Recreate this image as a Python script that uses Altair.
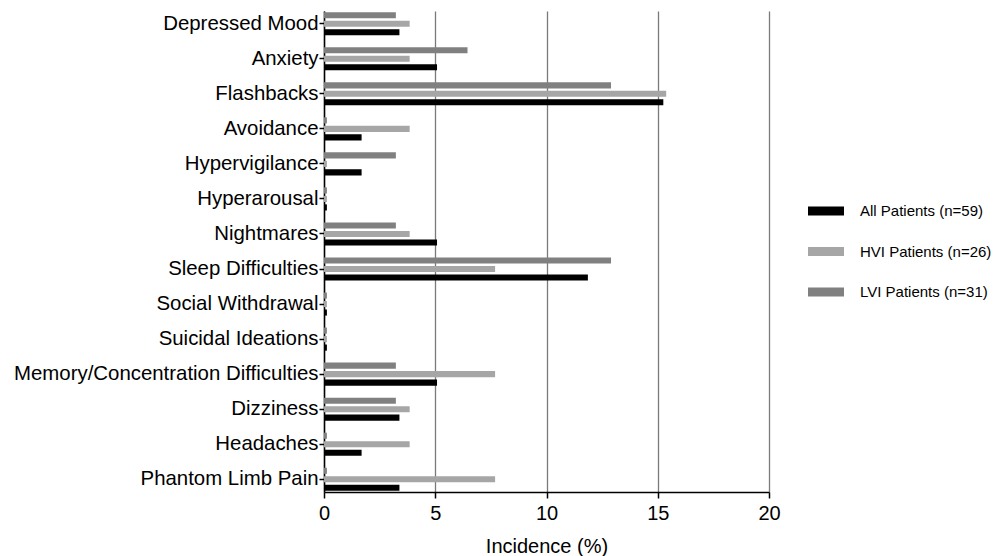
import altair as alt
import pandas as pd

# Symptoms, top to bottom
categories = [
    "Depressed Mood",
    "Anxiety",
    "Flashbacks",
    "Avoidance",
    "Hypervigilance",
    "Hyperarousal",
    "Nightmares",
    "Sleep Difficulties",
    "Social Withdrawal",
    "Suicidal Ideations",
    "Memory/Concentration Difficulties",
    "Dizziness",
    "Headaches",
    "Phantom Limb Pain",
]

series_names = ["All Patients (n=59)", "HVI Patients (n=26)", "LVI Patients (n=31)"]
series_colors = ["#000000", "#a6a6a6", "#808080"]

# Incidence (%) per symptom
all_patients = [3.39, 5.08, 15.25, 1.69, 1.69, 0, 5.08, 11.86, 0, 0, 5.08, 3.39, 1.69, 3.39]
hvi_patients = [3.85, 3.85, 15.38, 3.85, 0, 0, 3.85, 7.69, 0, 0, 7.69, 3.85, 3.85, 7.69]
lvi_patients = [3.23, 6.45, 12.90, 0, 3.23, 0, 3.23, 12.90, 0, 0, 3.23, 3.23, 0, 0]

x_ticks = [0, 5, 10, 15, 20]

rows = []
for name, values in zip(series_names, [all_patients, hvi_patients, lvi_patients]):
    for cat, v in zip(categories, values):
        rows.append({"symptom": cat, "series": name, "incidence": v})
df = pd.DataFrame(rows)

FONT = "Liberation Sans"

chart = (
    alt.Chart(df)
    # zero values are still drawn as a thin stub next to the axis
    .transform_calculate(shown="max(datum.incidence, 0.13)")
    .mark_bar()
    .encode(
        x=alt.X(
            "shown:Q",
            scale=alt.Scale(domain=[0, 20], nice=False, zero=True),
            axis=alt.Axis(
                values=x_ticks,
                title="Incidence (%)",
                grid=True,
                gridColor="#7a7a7a",
                gridWidth=1.3,
                domainColor="#000000",
                domainWidth=1.5,
                tickColor="#000000",
                tickWidth=1.5,
                tickSize=6,
                labelFont=FONT,
                labelFontSize=20,
                labelColor="#000000",
                labelPadding=5,
                labelFlush=False,
                titleFont=FONT,
                titleFontSize=20,
                titleFontWeight="normal",
                titleColor="#000000",
                titlePadding=13,
            ),
        ),
        y=alt.Y(
            "symptom:N",
            sort=categories,
            scale=alt.Scale(paddingInner=0.2735, paddingOuter=0),
            axis=alt.Axis(
                title=None,
                grid=False,
                domainColor="#000000",
                domainWidth=1.5,
                tickColor="#000000",
                tickWidth=1.5,
                tickSize=5,
                labelFont=FONT,
                labelFontSize=20.4,
                labelColor="#000000",
                labelPadding=1,
                labelLimit=0,
            ),
        ),
        yOffset=alt.YOffset(
            "series:N",
            sort=[series_names[2], series_names[1], series_names[0]],
            scale=alt.Scale(paddingInner=0.28, paddingOuter=0.14),
        ),
        color=alt.Color(
            "series:N",
            scale=alt.Scale(domain=series_names, range=series_colors),
            legend=alt.Legend(
                title=None,
                orient="none",
                legendX=484,
                legendY=182,
                symbolType="M-1,-0.25H1V0.25H-1Z",
                symbolSize=1296,
                symbolStrokeWidth=0,
                symbolOpacity=1,
                labelFont=FONT,
                labelFontSize=15,
                labelColor="#000000",
                labelOffset=16,
                rowPadding=14.5,
                padding=0,
            ),
        ),
    )
    .properties(
        width=445,
        height=481,
        padding={"left": 13, "top": 11, "right": 5, "bottom": 5},
    )
    .configure_view(stroke=None)
)

chart.save("out.html", embed_options={"renderer": "svg", "actions": False})
